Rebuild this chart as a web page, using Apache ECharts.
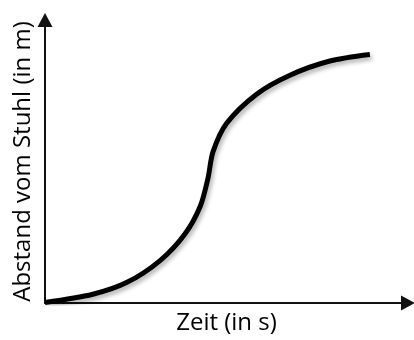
<!DOCTYPE html>
<html>
<head>
<meta charset="utf-8">
<script src="https://cdn.jsdelivr.net/npm/echarts@6/dist/echarts.min.js"></script>
<style>
  html, body { margin: 0; padding: 0; background: #fff; }
  #chart { width: 414px; height: 340px; }
</style>
</head>
<body>
<div id="chart"></div>
<script>
// time (arbitrary units) and distance
var zeit    = [0, 13.2, 22.6, 31.7, 38.6, 42.8, 44.9, 46.3, 50.1, 58.3, 67.5, 78.5, 89.5];
var abstand = [0.2, 3.1, 7.3, 15.0, 24.5, 34.3, 44.1, 53.5, 63.6, 73.8, 80.5, 85.5, 87.8];

var xName = 'Zeit (in s)';
var yName = 'Abstand vom Stuhl (in m)';

var points = zeit.map(function (t, i) { return [t, abstand[i]]; });

var axisLine = {
    show: true,
    symbol: ['none', 'triangle'],
    symbolSize: [15, 14],
    lineStyle: { color: '#111', width: 2 }
};

var chart = echarts.init(document.getElementById('chart'));
chart.setOption({
    animation: false,
    grid: { left: 45, right: 6, top: 20, bottom: 34 },
    xAxis: {
        type: 'value',
        min: 0,
        max: 100,
        name: xName,
        nameLocation: 'middle',
        nameGap: 8,
        nameTextStyle: { color: '#000', fontSize: 24, fontFamily: 'Open Sans', verticalAlign: 'top' },
        axisLine: axisLine,
        axisTick: { show: false },
        axisLabel: { show: false },
        splitLine: { show: false }
    },
    yAxis: {
        type: 'value',
        min: 0,
        max: 100,
        name: yName,
        nameLocation: 'middle',
        nameGap: 10,
        nameTextStyle: { color: '#000', fontSize: 24, fontFamily: 'Open Sans' },
        axisLine: axisLine,
        axisTick: { show: false },
        axisLabel: { show: false },
        splitLine: { show: false }
    },
    series: [{
        type: 'line',
        data: points,
        smooth: 0.3,
        showSymbol: false,
        lineStyle: {
            color: '#000',
            width: 5,
            shadowColor: 'rgba(0,0,0,0.3)',
            shadowBlur: 4,
            shadowOffsetX: 2,
            shadowOffsetY: 3
        }
    }]
});
</script>
</body>
</html>
